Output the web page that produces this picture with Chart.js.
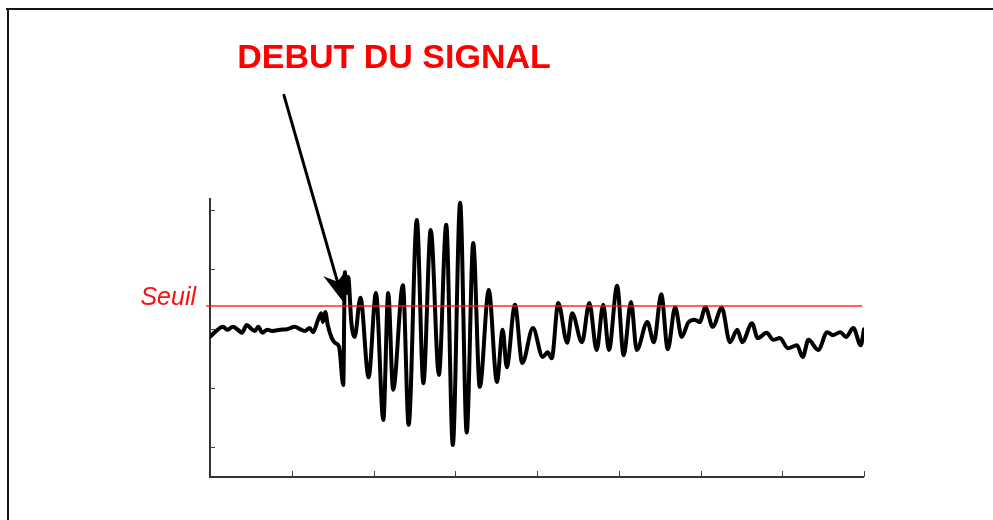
<!DOCTYPE html>
<html>
<head>
<meta charset="utf-8">
<script src="https://cdn.jsdelivr.net/npm/chart.js@4/dist/chart.umd.min.js"></script>
<style>
  html, body { margin: 0; padding: 0; background: #ffffff; }
  #wrap { width: 993px; height: 520px; position: relative; }
</style>
</head>
<body>
<div id="wrap"><canvas id="c" width="993" height="520"></canvas></div>
<script>
// Recorded trace: sample time and amplitude
const time = [0, 6, 16, 21, 28, 34, 39, 45, 51, 55, 59, 64, 70, 76, 86, 94, 104, 110, 116, 122, 126,
  132, 136, 138, 141, 144, 149, 153, 158, 163, 165, 167, 169, 173, 177, 184, 194, 203, 212, 218, 224,
  236, 243, 253, 261, 270, 280, 289, 297, 306, 314, 322, 330, 341, 351, 358, 363, 373, 382, 395, 407,
  413, 418, 426, 437, 443, 455, 464, 473, 481, 488, 498, 506, 515, 522, 535, 543, 552, 560, 569, 577,
  585, 593, 599, 606, 615, 626, 636, 645, 651, 663, 670, 681, 689, 697, 707, 718, 725, 732, 744, 755,
  762, 771, 778, 787, 796, 800];
const amplitude = [-0.14, -0.06, 0.03, -0.02, 0.03, -0.02, -0.07, 0.06, -0.01, -0.04, 0.03, -0.07, -0.02,
  -0.04, -0.02, -0.01, 0.03, -0.01, -0.04, 0.01, -0.06,
  0.14, 0.26, 0.11, 0.28, 0.06, -0.16, -0.24, -0.31, -0.95, 0.95, 0.60, 0.87, 0.09, -0.14, 0.52, -0.82,
  0.60, -1.54, 0.60, -1.03,
  0.73, -1.62, 1.83, -0.92, 1.66, -0.78, 1.75, -1.96, 2.12, -1.75, 1.44, -0.98, 0.65, -0.90, -0.02, -0.65,
  0.40, -0.58, 0.01, -0.48,
  -0.40, -0.50, 0.43, -0.24, 0.26, -0.23, 0.43, -0.36, 0.40, -0.36, 0.72, -0.45, 0.45, -0.36, 0.11, -0.23,
  0.58, -0.35, 0.36, -0.14,
  0.10, 0.15, 0.11, 0.36, 0.03, 0.35, -0.23, -0.02, -0.23, 0.09, -0.16, -0.07, -0.19, -0.16, -0.33, -0.28,
  -0.48, -0.19, -0.36, -0.06,
  -0.11, -0.06, -0.14, 0.01, -0.28, -0.01];

// Detection threshold ("Seuil") and axis ticks
const threshold = 0.38;
const xTicks = [100, 200, 300, 400, 500, 600, 700, 800];
const yTicks = [-2, -1, 0, 1, 2];

// Signal onset marked by the arrow (tip and tail, in data units)
const onset = { time: 163, value: 0.45 };
const arrowTail = { time: 90.5, value: 3.93 };

const trace = time.map((t, i) => ({ x: t, y: amplitude[i] }));

const FONT = '"Liberation Sans", Arial, Helvetica, sans-serif';

const decor = {
  id: 'decor',
  beforeDatasetsDraw(chart) {
    const { ctx, chartArea: a, scales: { x, y } } = chart;
    ctx.save();
    // outer frame (top and left edges)
    ctx.fillStyle = '#111';
    ctx.fillRect(6, 8, 993, 2);
    ctx.fillRect(7, 8, 2, 520);

    // axes
    ctx.strokeStyle = '#333';
    ctx.lineWidth = 2;
    ctx.beginPath();
    ctx.moveTo(a.left, a.top);
    ctx.lineTo(a.left, a.bottom);
    ctx.lineTo(a.right, a.bottom);
    ctx.stroke();

    // inward tick marks
    ctx.lineWidth = 1;
    ctx.strokeStyle = '#444';
    ctx.beginPath();
    xTicks.forEach(v => {
      const px = Math.round(x.getPixelForValue(v)) + 0.5;
      ctx.moveTo(px, a.bottom);
      ctx.lineTo(px, a.bottom - 6);
    });
    yTicks.forEach(v => {
      const py = Math.round(y.getPixelForValue(v)) + 0.5;
      ctx.moveTo(a.left, py);
      ctx.lineTo(a.left + 5, py);
    });
    ctx.stroke();
    ctx.restore();
  },
  afterDatasetsDraw(chart) {
    const { ctx, chartArea: a, scales: { x, y } } = chart;
    ctx.save();

    // threshold line
    const ty = y.getPixelForValue(threshold);
    ctx.strokeStyle = 'rgba(255,20,20,0.9)';
    ctx.lineWidth = 1.6;
    ctx.beginPath();
    ctx.moveTo(a.left - 4, ty);
    ctx.lineTo(a.right - 2, ty);
    ctx.stroke();

    // threshold label
    ctx.fillStyle = '#ff1010';
    ctx.font = 'italic 25px ' + FONT;
    ctx.textAlign = 'right';
    ctx.textBaseline = 'alphabetic';
    ctx.fillText('Seuil', a.left - 14, ty - 1);

    // title
    ctx.fillStyle = '#ff0000';
    ctx.font = 'bold 34px ' + FONT;
    ctx.textAlign = 'center';
    ctx.fillText('DEBUT DU SIGNAL', 394, 68);

    // arrow pointing at the signal onset
    const x0 = x.getPixelForValue(arrowTail.time), y0 = y.getPixelForValue(arrowTail.value);
    const x1 = x.getPixelForValue(onset.time), y1 = y.getPixelForValue(onset.value);
    const dx = x1 - x0, dy = y1 - y0, len = Math.hypot(dx, dy);
    const ux = dx / len, uy = dy / len;
    const px = -uy, py = ux;
    const headLen = 30, halfW = 12, notch = 21;
    ctx.strokeStyle = '#000';
    ctx.fillStyle = '#000';
    ctx.lineWidth = 3;
    ctx.lineCap = 'round';
    ctx.beginPath();
    ctx.moveTo(x0, y0);
    ctx.lineTo(x1 - ux * notch, y1 - uy * notch);
    ctx.stroke();
    ctx.beginPath();
    ctx.moveTo(x1, y1);
    ctx.lineTo(x1 - ux * headLen + px * halfW, y1 - uy * headLen + py * halfW);
    ctx.lineTo(x1 - ux * notch, y1 - uy * notch);
    ctx.lineTo(x1 - ux * headLen - px * halfW, y1 - uy * headLen - py * halfW);
    ctx.closePath();
    ctx.fill();
    ctx.restore();
  }
};

new Chart(document.getElementById('c'), {
  type: 'line',
  data: {
    datasets: [{
      data: trace,
      borderColor: '#000000',
      borderWidth: 4,
      borderJoinStyle: 'round',
      borderCapStyle: 'round',
      pointRadius: 0,
      cubicInterpolationMode: 'monotone',
      fill: false
    }]
  },
  options: {
    responsive: false,
    animation: false,
    layout: { padding: { left: 210, right: 129, top: 198, bottom: 43 } },
    scales: {
      x: { type: 'linear', min: 0, max: 800, display: false },
      y: { type: 'linear', min: -2.5, max: 2.2, display: false }
    },
    plugins: { legend: { display: false }, tooltip: { enabled: false }, title: { display: false } }
  },
  plugins: [decor]
});
</script>
</body>
</html>
